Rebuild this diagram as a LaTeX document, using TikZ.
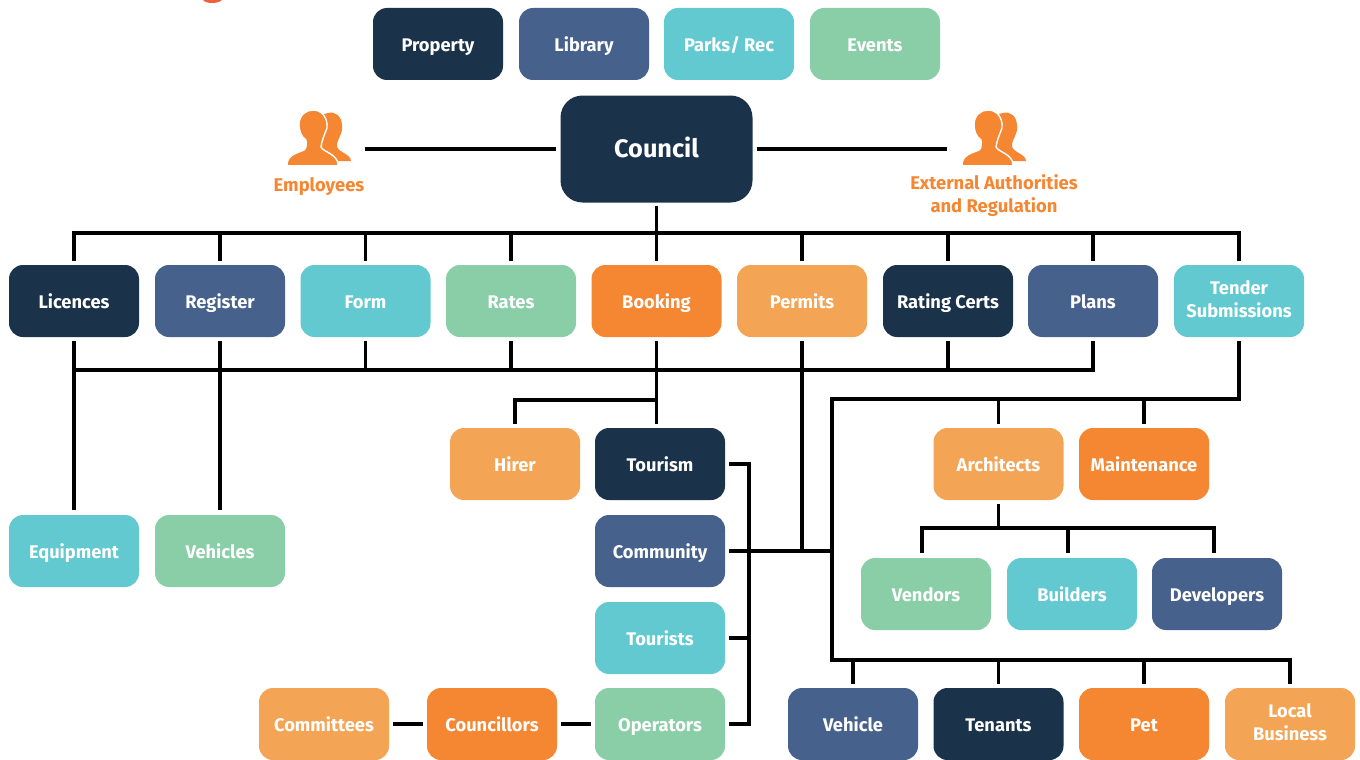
\documentclass[tikz,border=0pt]{standalone}
\usepackage{fontspec}
\setmainfont{Fira Sans}
\definecolor{navy}{HTML}{1A334B}
\definecolor{steel}{HTML}{46628C}
\definecolor{teal}{HTML}{62C9D0}
\definecolor{mint}{HTML}{8ACEA8}
\definecolor{orng}{HTML}{F58632}
\definecolor{lorng}{HTML}{F3A455}
\definecolor{redbit}{HTML}{F0603D}
\newcommand{\tstrut}{\rule[-3.4pt]{0pt}{22pt}}
\tikzset{
  box/.style={rectangle,rounded corners=14pt,minimum width=130pt,minimum height=72pt,inner sep=0pt,
    text=white,align=center,font=\fontsize{18.3}{23}\selectfont\bfseries,
    execute at begin node=\tstrut,execute at end node=\tstrut},
  conn/.style={draw=black,line width=3.2pt},
  captext/.style={text=orng,align=center,inner sep=0pt,font=\fontsize{18.4}{23}\selectfont\bfseries,
    execute at begin node=\tstrut,execute at end node=\tstrut},
}
\newcommand{\bx}[5]{\node[box,fill=#4] (#1) at (#2,#3) {#5};}
\newcommand{\peopleicon}[2]{%
  \begin{scope}[shift={(#1,#2)}]
    \fill[orng] (30,51) -- (30,20) .. controls (30,8) and (36,3) .. (41,3) .. controls (48,1) and (55,6) .. (55,16)
      .. controls (56,25) and (50,28) .. (50,36) .. controls (50,42) and (64,44) .. (64,51) -- cycle;
    \filldraw[fill=orng,draw=white,line width=1.4pt] (0,55) .. controls (0,45) and (10,43) .. (17,40) .. controls (20,38) and (19,33) .. (19,30)
      .. controls (14,27) and (12,20) .. (12,15) .. controls (12,5) and (19,0) .. (26,0)
      .. controls (35,0) and (41,8) .. (40,18) .. controls (37,26) and (35,30) .. (34,37)
      .. controls (36,42) and (51,44) .. (51,55) -- cycle;
    \fill[white] (-1,55.2) rectangle (65,57);
    \fill[orng] (0.7,54) rectangle (50.3,55);
  \end{scope}}
\begin{document}
\begin{tikzpicture}[x=1pt,y=-1pt]
\useasboundingbox[fill=white] (0,0) rectangle (1360,760);
\begin{scope}
\clip (0,0) rectangle (1360,760);
\fill[redbit] (203,0) .. controls (206,4) and (218,4) .. (222,0) -- cycle;
\end{scope}
% top row
\bx{prop}{438}{44}{navy}{Property}
\bx{lib}{584}{44}{steel}{Library}
\bx{parks}{729}{44}{teal}{Parks/ Rec}
\bx{events}{875}{44}{mint}{Events}
\node[box,fill=navy,rounded corners=22pt,minimum width=192pt,minimum height=107pt,font=\fontsize{25.3}{30}\selectfont\bfseries,execute at begin node=\rule{0pt}{21pt}] (council) at (656.5,149) {Council};
% icons and captions
\peopleicon{287}{110}
\peopleicon{962}{110}
\node[captext] (emp) at (319,184) {Employees};
\node[captext] (ext) at (994,195.5) {External Authorities\\and Regulation};
\coordinate (empend) at (365,149);
\coordinate (extend) at (947,149);
% second row
\bx{lic}{74}{301}{navy}{Licences}
\bx{reg}{220}{301}{steel}{Register}
\bx{form}{365.5}{301}{teal}{Form}
\bx{rates}{511}{301}{mint}{Rates}
\bx{book}{656.5}{301}{orng}{Booking}
\bx{perm}{802}{301}{lorng}{Permits}
\bx{rate}{948}{301}{navy}{Rating Certs}
\bx{plans}{1093}{301}{steel}{Plans}
\bx{tender}{1239}{301}{teal}{Tender\\Submissions}
% third
\bx{hirer}{515}{464}{lorng}{Hirer}
\bx{tour}{660}{464}{navy}{Tourism}
\bx{arch}{998.5}{464}{lorng}{Architects}
\bx{maint}{1144}{464}{orng}{Maintenance}
\bx{equip}{74}{551}{teal}{Equipment}
\bx{vehs}{220}{551}{mint}{Vehicles}
\bx{comm}{660}{551}{steel}{Community}
\bx{tours}{660}{638}{teal}{Tourists}
\bx{vend}{926}{594}{mint}{Vendors}
\bx{build}{1072}{594}{teal}{Builders}
\bx{devs}{1217}{594}{steel}{Developers}
\bx{commit}{324}{724}{lorng}{Committees}
\bx{counc}{492}{724}{orng}{Councillors}
\bx{oper}{660}{724}{mint}{Operators}
\bx{vehc}{853}{724}{steel}{Vehicle}
\bx{ten}{998.5}{724}{navy}{Tenants}
\bx{pet}{1144}{724}{orng}{Pet}
\bx{local}{1290}{724}{lorng}{Local\\Business}
% bus coordinates
\coordinate (t0) at (656.5,233);
\coordinate (tl) at (74,233);
\coordinate (tr) at (1239,233);
\coordinate (m1) at (74,370);
\coordinate (m2) at (1093,370);
\coordinate (h1) at (515,400);
\coordinate (h2) at (656.5,400);
\coordinate (hb) at (656.5,424);
\coordinate (r0) at (832,399);
\coordinate (r1) at (1239,399);
\coordinate (r2) at (832,660);
\coordinate (r3) at (1290,660);
\coordinate (a0) at (998.5,528);
\coordinate (al) at (922,528);
\coordinate (ar) at (1214,528);
\coordinate (am) at (1068,528);
\coordinate (alb) at (922,553);
\coordinate (arb) at (1214,553);
\coordinate (amb) at (1068,553);
\coordinate (s0) at (749,464);
\coordinate (s1) at (749,724);
\coordinate (s3) at (749,638);
\coordinate (j1) at (802,551);
\coordinate (j2) at (832,551);
% council links
\draw[conn] (empend) -- ([xshift=-4pt]council.west);
\draw[conn] ([xshift=4pt]council.east) -- (extend);
\draw[conn] ([yshift=-3pt]council.south) -- (t0);
\draw[conn,line cap=rect] (tl) -- (tr);
% drops to row 2
\foreach \n in {lic,reg,form,rates,book,perm,rate,plans,tender}{
  \draw[conn] (\n.north |- t0) -- ([yshift=4pt]\n.north);
}
% under row 2
\draw[conn] ([yshift=-4pt]lic.south) -- ([yshift=5pt]equip.north);
\draw[conn] ([yshift=-4pt]reg.south) -- ([yshift=5pt]vehs.north);
\draw[conn,line cap=rect] (m1) -- (m2);
\foreach \n in {form,rates,rate,plans}{
  \draw[conn] ([yshift=-4pt]\n.south) -- (\n.south |- m1);
}
\draw[conn] ([yshift=-4pt]book.south) -- (hb);
\draw[conn] (h2) -- (h1) -- ([yshift=4pt]hirer.north);
\draw[conn] ([yshift=-4pt]perm.south) -- (j1);
\draw[conn] ([yshift=-4pt]tender.south) -- (r1) -- (r0) -- (r2) -- (r3) -- ([yshift=4pt]local.north);
\draw[conn] (arch.north |- r0) -- ([yshift=4pt]arch.north);
\draw[conn] (maint.north |- r0) -- ([yshift=4pt]maint.north);
\draw[conn] (vehc.north |- r2) -- ([yshift=4pt]vehc.north);
\draw[conn] (ten.north |- r2) -- ([yshift=4pt]ten.north);
\draw[conn] (pet.north |- r2) -- ([yshift=4pt]pet.north);
% architects
\draw[conn] ([yshift=-4pt]arch.south) -- (a0);
\draw[conn] (alb) -- (al) -- (ar) -- (arb);
\draw[conn] (am) -- (amb);
% right side ladder
\draw[conn] ([xshift=4pt]tour.east) -- (s0) -- (s1) -- ([xshift=4pt]oper.east);
\draw[conn] ([xshift=4pt]comm.east) -- (j2);
\draw[conn] ([xshift=4pt]tours.east) -- (s3);
% bottom chain
\draw[conn] ([xshift=4pt]commit.east) -- ([xshift=-4pt]counc.west);
\draw[conn] ([xshift=4pt]counc.east) -- ([xshift=-4pt]oper.west);
\end{tikzpicture}
\end{document}
